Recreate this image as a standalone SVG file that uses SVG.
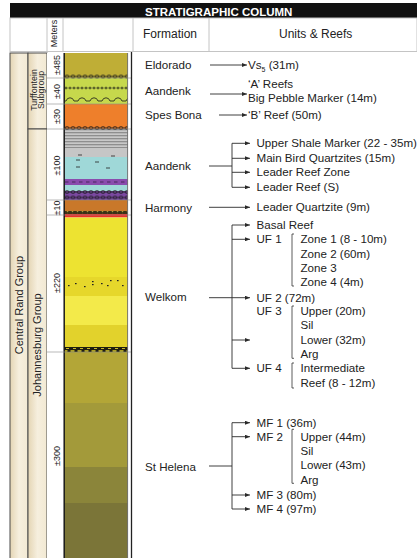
<svg xmlns="http://www.w3.org/2000/svg" width="417" height="558" viewBox="0 0 417 558">
<style>
text{font-family:"Liberation Sans",Arial,sans-serif;fill:#222}
.f{font-size:11.6px}
.m{font-size:9px}
.g{font-size:11px}
.hd{fill:none;stroke:#c4c4c4;stroke-width:1}
.ln{fill:none;stroke:#2a2a2a;stroke-width:0.9}
.ar{fill:none;stroke:#2a2a2a;stroke-width:0.9;marker-end:url(#ah)}
.br{fill:none;stroke:#333;stroke-width:0.8}
.box{fill:url(#cream);stroke:#4a4a4a;stroke-width:1}
.div{stroke:#8a8a8a;stroke-width:0.6}
</style>
<defs>
<linearGradient id="cream" x1="0" x2="1" y1="0" y2="0">
<stop offset="0" stop-color="#e4d5b4"/><stop offset="0.5" stop-color="#f6efde"/><stop offset="1" stop-color="#f2e9d3"/>
</linearGradient>
<pattern id="chain" width="6" height="4" patternUnits="userSpaceOnUse">
<line x1="0" y1="2" x2="6" y2="2" stroke="#222" stroke-width="0.5"/>
<ellipse cx="3" cy="2" rx="2.2" ry="1.3" fill="none" stroke="#151515" stroke-width="0.8"/>
</pattern>
<pattern id="dots" width="4" height="3" patternUnits="userSpaceOnUse">
<line x1="0" y1="1.5" x2="4" y2="1.5" stroke="#222" stroke-width="0.5"/>
<circle cx="2" cy="1.5" r="0.9" fill="#111"/>
</pattern>
<pattern id="wave" width="12" height="5" patternUnits="userSpaceOnUse">
<path d="M0,4 L2,4 Q3,0.8 6,0.8 Q9,0.8 10,4 L12,4" fill="none" stroke="#151515" stroke-width="0.8"/>
</pattern>
<pattern id="stripes" width="10" height="3" patternUnits="userSpaceOnUse">
<rect width="10" height="3" fill="#c8c8c8"/><rect y="0" width="10" height="1.3" fill="#8e8e8e"/>
</pattern>
<pattern id="dashrow" width="7" height="3" patternUnits="userSpaceOnUse">
<line x1="1" y1="1.5" x2="4.5" y2="1.5" stroke="#2a1a3a" stroke-width="0.7"/>
</pattern>
<pattern id="yband" width="7" height="5" patternUnits="userSpaceOnUse">
<rect width="7" height="5" fill="#1e1e10"/><rect x="0.5" y="0.3" width="4" height="1.4" fill="#e8d82a"/><rect x="3" y="3" width="3" height="1" fill="#c9b92a"/>
</pattern>
<pattern id="oband" width="5" height="3" patternUnits="userSpaceOnUse">
<rect width="5" height="3" fill="#3a3216"/><circle cx="2.5" cy="1.5" r="0.8" fill="#a89a3a"/>
</pattern>
<marker id="ah" markerUnits="userSpaceOnUse" markerWidth="5" markerHeight="4" refX="5" refY="2" orient="auto">
<path d="M0,0 L5,2 L0,4 z" fill="#2a2a2a"/>
</marker>
</defs>

<g id="title">
<rect x="10" y="3" width="407" height="15" fill="#111"/>
<text x="145" y="15.5" style="font-size:11.5px;font-weight:bold;fill:#fff">STRATIGRAPHIC COLUMN</text>
</g>

<g id="header">
<rect x="10" y="18" width="407" height="33.5" fill="#fff" class="hd"/>
<line x1="47" y1="18" x2="47" y2="51.5" class="hd"/>
<line x1="63" y1="18" x2="63" y2="51.5" class="hd"/>
<line x1="133" y1="18" x2="133" y2="51.5" class="hd"/>
<line x1="209" y1="18" x2="209" y2="51.5" class="hd"/>
<text transform="translate(57,33.5) rotate(-90)" text-anchor="middle" class="m">Meters</text>
<text x="143" y="38" style="font-size:12px">Formation</text>
<text x="279" y="38" style="font-size:12px">Units &amp; Reefs</text>
</g>

<g id="central-rand-group">
<rect x="10" y="53" width="18" height="510" class="box"/>
<text transform="translate(23,305) rotate(-90)" text-anchor="middle" class="g">Central Rand Group</text>
</g>
<g id="turffontein-subgroup">
<rect x="28" y="53" width="19" height="76" class="box"/>
<text transform="translate(36.5,90) rotate(-90)" text-anchor="middle" style="font-size:8.8px">Turffontein</text>
<text transform="translate(44,90) rotate(-90)" text-anchor="middle" style="font-size:8.8px">Subgroup</text>
</g>
<g id="johannesburg-group">
<rect x="28" y="129" width="19" height="434" class="box"/>
<text transform="translate(41,345) rotate(-90)" text-anchor="middle" class="g">Johannesburg Group</text>
</g>

<g id="meters">
<rect x="47" y="53" width="16" height="510" fill="#fff"/>
<text transform="translate(60,65) rotate(-90)" text-anchor="middle" class="m">±485</text>
<text transform="translate(60,91.5) rotate(-90)" text-anchor="middle" class="m">±40</text>
<text transform="translate(60,116.5) rotate(-90)" text-anchor="middle" class="m">±30</text>
<text transform="translate(60,165.5) rotate(-90)" text-anchor="middle" class="m">±100</text>
<text transform="translate(60,208) rotate(-90)" text-anchor="middle" class="m">±10</text>
<text transform="translate(60,283) rotate(-90)" text-anchor="middle" class="m">±220</text>
<text transform="translate(60,456) rotate(-90)" text-anchor="middle" class="m">±300</text>
</g>

<g id="column">
<rect x="64" y="53" width="63.5" height="25" fill="#bfae36"/>
<rect x="64" y="78" width="63.5" height="26" fill="#c6d84c"/>
<rect x="64" y="104" width="63.5" height="25" fill="#ee7f2b"/>
<rect x="64" y="129" width="63.5" height="19" fill="url(#stripes)"/>
<rect x="64" y="148" width="63.5" height="9" fill="#c6c6c6"/>
<rect x="64" y="157" width="63.5" height="22" fill="#9fd8d8"/>
<rect x="64" y="179" width="63.5" height="6" fill="#8a4cad"/>
<rect x="64" y="185" width="63.5" height="6" fill="#9fd8d8"/>
<rect x="64" y="191" width="63.5" height="9" fill="#7a48a0"/>
<rect x="64" y="200" width="63.5" height="11" fill="#c9782a"/>
<rect x="64" y="211" width="63.5" height="3" fill="url(#oband)"/>
<rect x="64" y="214" width="63.5" height="3.5" fill="#e8322a"/>
<rect x="64" y="217.5" width="63.5" height="59.5" fill="#ede331"/>
<rect x="64" y="277" width="63.5" height="19" fill="#e6d72b"/>
<rect x="64" y="296" width="63.5" height="29" fill="#f3ea4a"/>
<rect x="64" y="325" width="63.5" height="22" fill="#e2d22c"/>
<rect x="64" y="347" width="63.5" height="5" fill="url(#yband)"/>
<rect x="64" y="352" width="63.5" height="51" fill="#b3a637"/>
<rect x="64" y="403" width="63.5" height="64" fill="#a39a3a"/>
<rect x="64" y="467" width="63.5" height="36" fill="#8b853a"/>
<rect x="64" y="503" width="63.5" height="60" fill="#7b7538"/>
<rect x="0" y="0" width="63.5" height="4" fill="url(#chain)" transform="translate(64,74.5)"/>
<rect x="0" y="0" width="63.5" height="3" fill="url(#dots)" transform="translate(64,86.5)"/>
<rect x="0" y="0" width="63.5" height="5" fill="url(#wave)" transform="translate(64,97)"/>
<rect x="0" y="0" width="63.5" height="4" fill="url(#chain)" transform="translate(64,126)"/>
<rect x="0" y="0" width="63.5" height="3" fill="url(#dashrow)" transform="translate(64,180.5)"/>
<rect x="0" y="0" width="63.5" height="4" fill="url(#chain)" transform="translate(64,190)"/>
<rect x="0" y="0" width="63.5" height="4" fill="url(#chain)" transform="translate(64,195.5)"/>
<g stroke="#222" stroke-width="0.8">
<line x1="78" y1="155" x2="82" y2="155"/><line x1="111" y1="156" x2="115" y2="156"/>
<line x1="76" y1="160" x2="80" y2="160"/><line x1="95" y1="162" x2="99" y2="162"/>
<line x1="76" y1="167" x2="80" y2="167"/><line x1="106" y1="168" x2="110" y2="168"/>
</g>
<g fill="#222">
<rect x="68" y="285" width="1.6" height="1.2"/><rect x="75" y="283" width="1.6" height="1.2"/>
<rect x="84" y="286" width="1.6" height="1.2"/><rect x="92" y="284" width="1.6" height="1.2"/>
<rect x="92" y="281" width="1.6" height="1.2"/><rect x="101" y="283" width="1.6" height="1.2"/>
<rect x="107" y="285" width="1.6" height="1.2"/><rect x="110" y="280" width="1.6" height="1.2"/>
<rect x="117" y="280" width="1.6" height="1.2"/><rect x="122" y="285" width="1.6" height="1.2"/>
</g>
<line x1="64.2" y1="53" x2="64.2" y2="558" stroke="#1a1a1a" stroke-width="1.5"/>
<line x1="127.6" y1="53" x2="127.6" y2="558" stroke="#555" stroke-width="0.8"/>
<g class="div">
<line x1="47" y1="78" x2="131" y2="78"/>
<line x1="47" y1="104" x2="131" y2="104"/>
<line x1="47" y1="129" x2="131" y2="129"/>
<line x1="47" y1="200" x2="131" y2="200"/>
<line x1="47" y1="215" x2="131" y2="215"/>
<line x1="47" y1="352" x2="131" y2="352"/>
</g>
</g>

<line x1="131.5" y1="52" x2="131.5" y2="558" stroke="#222" stroke-width="1.3"/>

<g id="eldorado">
<text x="145" y="69" class="f">Eldorado</text>
<text x="248" y="69" class="f">Vs<tspan dy="2.5" style="font-size:7px">5</tspan><tspan dy="-2.5"> (31m)</tspan></text>
</g>
<g id="aandenk-upper">
<text x="145" y="95" class="f">Aandenk</text>
<text x="248" y="88" class="f">‘A’ Reefs</text>
<text x="248" y="101.5" class="f">Big Pebble Marker (14m)</text>
</g>
<g id="spes-bona">
<text x="145" y="119" class="f">Spes Bona</text>
<text x="248" y="119" class="f">‘B’ Reef (50m)</text>
</g>
<g id="aandenk-lower">
<text x="145" y="170" class="f">Aandenk</text>
<text x="256.5" y="147.3" class="f">Upper Shale Marker (22 - 35m)</text>
<text x="256.5" y="162.3" class="f">Main Bird Quartzites (15m)</text>
<text x="256.5" y="176.3" class="f">Leader Reef Zone</text>
<text x="256.5" y="191.3" class="f">Leader Reef (S)</text>
</g>
<g id="harmony">
<text x="145" y="211.5" class="f">Harmony</text>
<text x="256.5" y="211.3" class="f">Leader Quartzite (9m)</text>
</g>
<g id="welkom">
<text x="145" y="301" class="f">Welkom</text>
<text x="256.5" y="229" class="f">Basal Reef</text>
<text x="256.5" y="243.3" class="f">UF 1</text>
<text x="300.5" y="243.3" class="f">Zone 1 (8 - 10m)</text>
<text x="300.5" y="257.5" class="f">Zone 2 (60m)</text>
<text x="300.5" y="271.8" class="f">Zone 3</text>
<text x="300.5" y="286" class="f">Zone 4 (4m)</text>
<text x="256.5" y="301.7" class="f">UF 2 (72m)</text>
<text x="256.5" y="315" class="f">UF 3</text>
<text x="300.5" y="315" class="f">Upper (20m)</text>
<text x="300.5" y="329.3" class="f">Sil</text>
<text x="300.5" y="343.6" class="f">Lower (32m)</text>
<text x="300.5" y="358" class="f">Arg</text>
<text x="256.5" y="372.3" class="f">UF 4</text>
<text x="300.5" y="372.3" class="f">Intermediate</text>
<text x="300.5" y="386.6" class="f">Reef (8 - 12m)</text>
</g>
<g id="st-helena">
<text x="145" y="470.7" class="f">St Helena</text>
<text x="256.5" y="426.7" class="f">MF 1 (36m)</text>
<text x="256.5" y="440.7" class="f">MF 2</text>
<text x="300.5" y="440.7" class="f">Upper (44m)</text>
<text x="300.5" y="455" class="f">Sil</text>
<text x="300.5" y="469.3" class="f">Lower (43m)</text>
<text x="300.5" y="483.6" class="f">Arg</text>
<text x="256.5" y="499" class="f">MF 3 (80m)</text>
<text x="256.5" y="513" class="f">MF 4 (97m)</text>
</g>

<g id="connectors">
<line x1="210" y1="65" x2="247" y2="65" class="ar"/>
<line x1="210" y1="94" x2="247" y2="94" class="ar"/>
<line x1="219" y1="115" x2="247" y2="115" class="ar"/>
<path d="M209,166 H232 M232,143.3 V187.3" class="ln"/>
<line x1="232" y1="143.3" x2="250" y2="143.3" class="ar"/>
<line x1="232" y1="158.3" x2="250" y2="158.3" class="ar"/>
<line x1="232" y1="172.3" x2="250" y2="172.3" class="ar"/>
<line x1="232" y1="187.3" x2="250" y2="187.3" class="ar"/>
<line x1="209" y1="207.3" x2="250" y2="207.3" class="ar"/>
<path d="M232,225 V368.3" class="ln"/>
<line x1="232" y1="225" x2="250" y2="225" class="ar"/>
<line x1="232" y1="239.3" x2="250" y2="239.3" class="ar"/>
<line x1="209" y1="297.7" x2="250" y2="297.7" class="ar"/>
<line x1="232" y1="340" x2="250" y2="340" class="ar"/>
<line x1="232" y1="368.3" x2="250" y2="368.3" class="ar"/>
<path d="M209,466 H232 M232,422.7 V509" class="ln"/>
<line x1="232" y1="422.7" x2="250" y2="422.7" class="ar"/>
<line x1="232" y1="436.7" x2="250" y2="436.7" class="ar"/>
<line x1="232" y1="495" x2="250" y2="495" class="ar"/>
<line x1="232" y1="509" x2="250" y2="509" class="ar"/>
<path d="M294,234 H292 V286 H294" class="br"/>
<path d="M294,306 H292 V358.3 H294" class="br"/>
<path d="M294,363 H292 V388 H294" class="br"/>
<path d="M294,429.3 H292 V483.3 H294" class="br"/>
</g>
</svg>
